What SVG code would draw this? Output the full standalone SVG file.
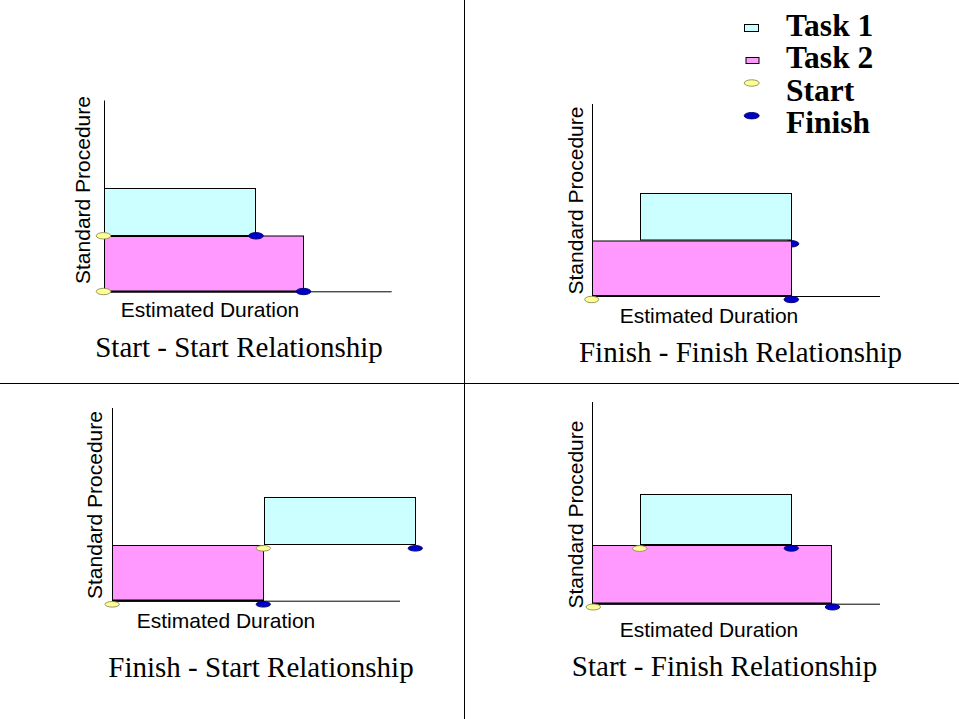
<svg xmlns="http://www.w3.org/2000/svg" width="959" height="719" viewBox="0 0 959 719">
<style>
.t1{fill:#CCFFFF;stroke:#000;stroke-width:1}
.t2{fill:#FF99FF;stroke:#000;stroke-width:1}
.st{fill:#FFFF99;stroke:#8C8C50;stroke-width:0.9}
.fi{fill:#0000CC;stroke:#000066;stroke-width:0.9}
.ax{stroke:#000;stroke-width:1;fill:none}
.bold{stroke:#000;stroke-width:2;fill:none}
.lab{font-family:"Liberation Sans",Arial,sans-serif;font-size:21px;fill:#000;text-anchor:middle}
.ttl{font-family:"Liberation Serif","Times New Roman",serif;font-size:29px;fill:#000;text-anchor:middle}
.leg{font-family:"Liberation Serif","Times New Roman",serif;font-size:31.5px;font-weight:bold;fill:#000}
</style>
<rect width="959" height="719" fill="#fff"/>
<g id="dividers">
<line class="ax" x1="464.5" y1="0" x2="464.5" y2="719"/>
<line class="ax" x1="0" y1="383.5" x2="959" y2="383.5"/>
</g>
<g id="legend">
<rect class="t1" x="744.5" y="24.5" width="14" height="7"/>
<text class="leg" x="786" y="36">Task 1</text>
<rect class="t2" x="746" y="57.5" width="13" height="6"/>
<text class="leg" x="786" y="68">Task 2</text>
<ellipse class="st" cx="751.7" cy="83" rx="7.5" ry="3.2"/>
<text class="leg" x="786" y="100.5">Start</text>
<ellipse class="fi" cx="751.7" cy="115.7" rx="7.5" ry="3.2"/>
<text class="leg" x="786" y="132.5">Finish</text>
</g>
<g id="q1-start-start">
<line class="ax" x1="104.5" y1="100.5" x2="104.5" y2="292"/>
<line class="ax" x1="104" y1="291.8" x2="391.7" y2="291.8"/>
<rect class="t1" x="104.5" y="188.5" width="151" height="47.5"/>
<rect class="t2" x="104.5" y="236" width="199" height="55.8"/>
<line class="bold" x1="104.5" y1="236" x2="256" y2="236"/>
<line class="bold" x1="104.5" y1="291.5" x2="303.5" y2="291.5"/>
<ellipse class="st" cx="103.5" cy="235.8" rx="7.3" ry="3.2"/>
<ellipse class="fi" cx="256" cy="235.8" rx="7.3" ry="3.2"/>
<ellipse class="st" cx="103.5" cy="291.5" rx="7.3" ry="3.2"/>
<ellipse class="fi" cx="303.5" cy="291.5" rx="7.3" ry="3.2"/>
<text class="lab" transform="translate(90,190) rotate(-90)">Standard Procedure</text>
<text class="lab" x="210" y="316.5">Estimated Duration</text>
<text class="ttl" x="239" y="357">Start - Start Relationship</text>
</g>
<g id="q2-finish-finish">
<line class="ax" x1="592.5" y1="104" x2="592.5" y2="296"/>
<line class="ax" x1="592" y1="296.5" x2="880" y2="296.5"/>
<ellipse class="fi" cx="791.5" cy="243.8" rx="7.3" ry="3.2"/>
<rect class="t1" x="640.5" y="193.5" width="151" height="46.5"/>
<rect class="t2" x="592.5" y="241" width="199" height="55.5"/>
<line class="bold" x1="592.5" y1="296" x2="791.5" y2="296"/>
<ellipse class="st" cx="591.7" cy="299.5" rx="7" ry="3.2"/>
<ellipse class="fi" cx="791.3" cy="299.5" rx="7.3" ry="3.2"/>
<text class="lab" transform="translate(582.5,200.5) rotate(-90)">Standard Procedure</text>
<text class="lab" x="709" y="323.3">Estimated Duration</text>
<text class="ttl" x="740.5" y="362">Finish - Finish Relationship</text>
</g>
<g id="q3-finish-start">
<line class="ax" x1="112.5" y1="408" x2="112.5" y2="601"/>
<line class="ax" x1="112" y1="601.2" x2="400" y2="601.2"/>
<rect class="t2" x="112.5" y="545.5" width="151" height="55.5"/>
<rect class="t1" x="264.5" y="497.5" width="151" height="47"/>
<line class="bold" x1="112.5" y1="600.5" x2="263.5" y2="600.5"/>
<ellipse class="st" cx="112.2" cy="604.3" rx="7.2" ry="2.8"/>
<ellipse class="fi" cx="263.3" cy="604.3" rx="7.2" ry="2.8"/>
<ellipse class="st" cx="263.3" cy="548.3" rx="7.2" ry="2.8"/>
<ellipse class="fi" cx="415.3" cy="548.3" rx="7.2" ry="2.8"/>
<text class="lab" transform="translate(101.5,505) rotate(-90)">Standard Procedure</text>
<text class="lab" x="226" y="628.3">Estimated Duration</text>
<text class="ttl" x="261" y="677">Finish - Start Relationship</text>
</g>
<g id="q4-start-finish">
<line class="ax" x1="592.5" y1="402" x2="592.5" y2="604"/>
<line class="ax" x1="592" y1="604.2" x2="880" y2="604.2"/>
<rect class="t1" x="640.5" y="494.5" width="151" height="50"/>
<rect class="t2" x="592.5" y="545.5" width="239" height="58.2"/>
<line class="bold" x1="640.5" y1="545" x2="791.5" y2="545"/>
<line class="bold" x1="592.5" y1="603.5" x2="831.5" y2="603.5"/>
<ellipse class="st" cx="639.7" cy="548.5" rx="7.2" ry="2.9"/>
<ellipse class="fi" cx="791.3" cy="548.3" rx="7.2" ry="2.9"/>
<ellipse class="st" cx="593.3" cy="607" rx="7.2" ry="3"/>
<ellipse class="fi" cx="832.5" cy="607" rx="7.2" ry="3"/>
<text class="lab" transform="translate(582.5,514.5) rotate(-90)">Standard Procedure</text>
<text class="lab" x="709" y="636.5">Estimated Duration</text>
<text class="ttl" x="724.5" y="676">Start - Finish Relationship</text>
</g>
</svg>
